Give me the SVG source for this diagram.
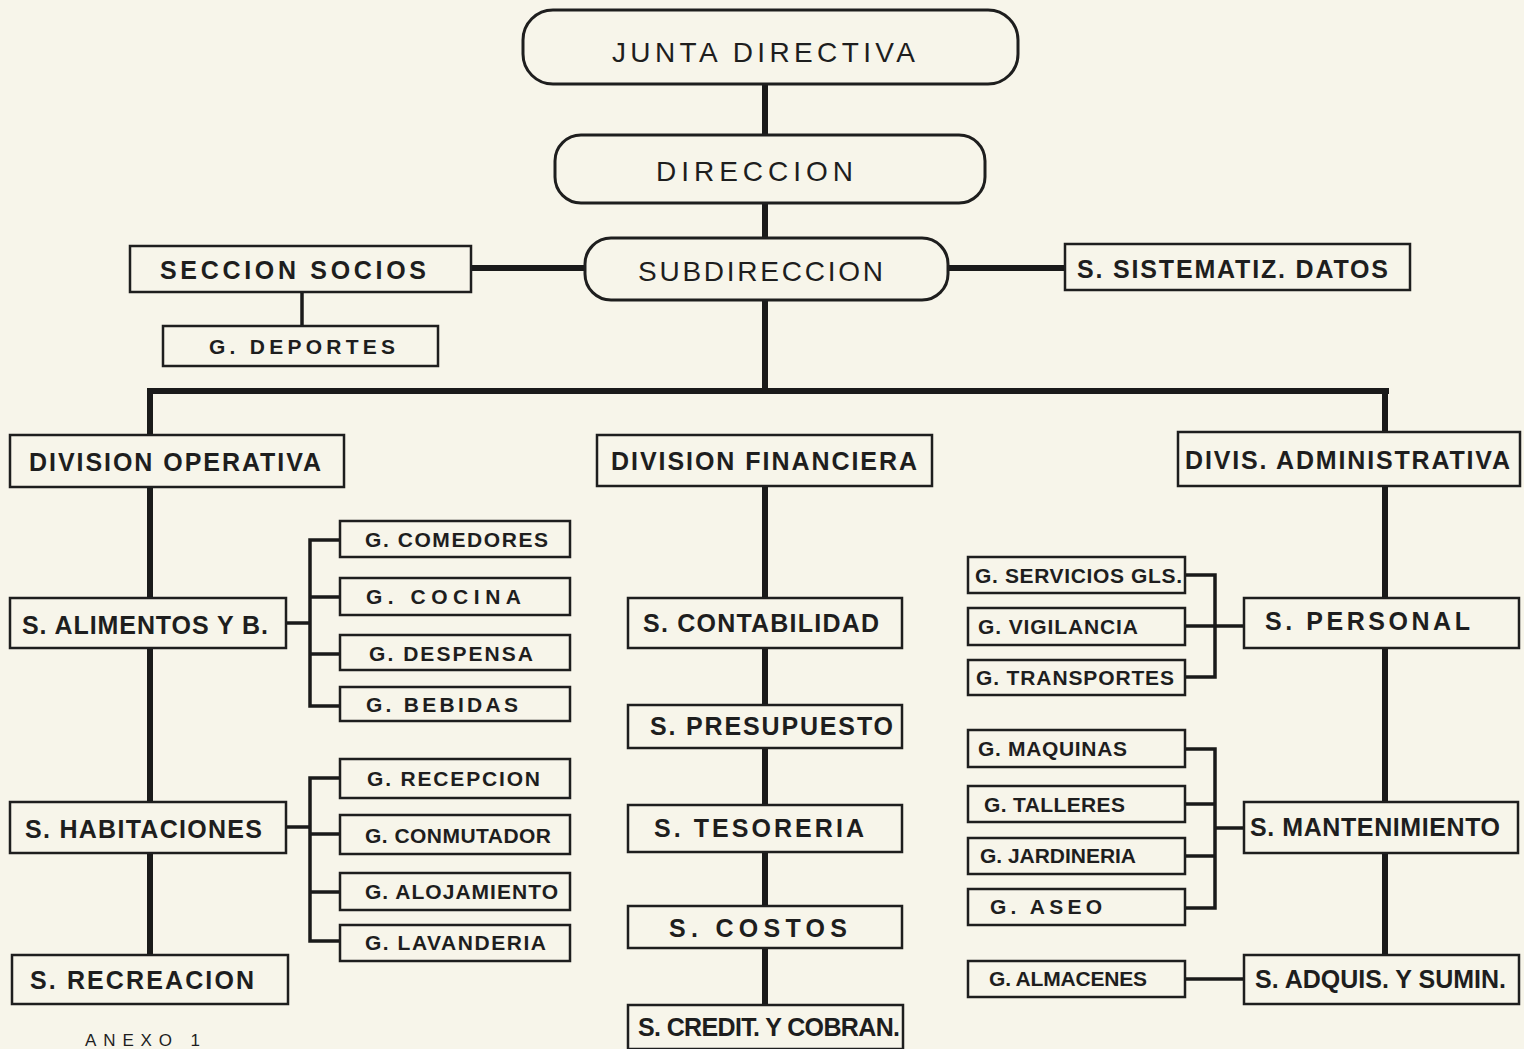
<svg xmlns="http://www.w3.org/2000/svg" width="1524" height="1049" viewBox="0 0 1524 1049">
<style>
.bg{fill:#f7f5ea}
.box{fill:#f7f5ea;stroke:#1e1e1e;stroke-width:2.5}
.rbox{fill:#f7f5ea;stroke:#1e1e1e;stroke-width:3}
.t{font-family:"Liberation Sans",Arial,sans-serif;fill:#1e1e1e;font-weight:bold;font-size:25px}
.tl{font-family:"Liberation Sans",Arial,sans-serif;fill:#1e1e1e;font-size:28px}
.ts{font-family:"Liberation Sans",Arial,sans-serif;fill:#1e1e1e;font-weight:bold;font-size:21px}
.thick{stroke:#1a1a1a;stroke-width:6;fill:none}
.med{stroke:#1a1a1a;stroke-width:3.5;fill:none}
</style>
<rect class="bg" x="0" y="0" width="1524" height="1049"/>
<g id="connectors">
<line class="thick" x1="765" y1="84" x2="765" y2="394"/>
<line class="thick" x1="471" y1="268" x2="585" y2="268"/>
<line class="thick" x1="948" y1="268" x2="1065" y2="268"/>
<line class="med" x1="302" y1="292" x2="302" y2="326"/>
<line class="thick" x1="147" y1="391" x2="1389" y2="391"/>
<line class="thick" x1="150" y1="391" x2="150" y2="435"/>
<line class="thick" x1="150" y1="487" x2="150" y2="955"/>
<line class="thick" x1="765" y1="486" x2="765" y2="1005"/>
<line class="thick" x1="1385" y1="391" x2="1385" y2="432"/>
<line class="thick" x1="1385" y1="486" x2="1385" y2="955"/>
<path class="med" d="M286,623 H310 M340,540 H310 V706 H340 M310,597 H340 M310,654 H340"/>
<path class="med" d="M286,827 H310 M340,778 H310 V941 H340 M310,834 H340 M310,892 H340"/>
<path class="med" d="M1185,575 H1215 V677 H1185 M1185,626 H1244"/>
<path class="med" d="M1185,749 H1215 V908 H1185 M1185,804 H1215 M1185,856 H1215 M1215,828 H1244"/>
<line class="med" x1="1185" y1="979" x2="1244" y2="979"/>
</g>
<g id="junta"><rect class="rbox" x="523" y="10" width="495" height="74" rx="30"/><text class="tl" x="612" y="62" textLength="303" lengthAdjust="spacing">JUNTA  DIRECTIVA</text></g>
<g id="direccion"><rect class="rbox" x="555" y="135" width="430" height="68" rx="26"/><text class="tl" x="656" y="181" textLength="197" lengthAdjust="spacing">DIRECCION</text></g>
<g id="subdireccion"><rect class="rbox" x="585" y="238" width="363" height="62" rx="26"/><text class="tl" x="638" y="281" textLength="245" lengthAdjust="spacing">SUBDIRECCION</text></g>
<g id="seccion-socios"><rect class="box" x="130" y="246" width="341" height="46"/><text class="t" x="160" y="279" textLength="266" lengthAdjust="spacing">SECCION SOCIOS</text></g>
<g id="g-deportes"><rect class="box" x="163" y="326" width="275" height="40"/><text class="ts" x="209" y="354" textLength="186" lengthAdjust="spacing">G. DEPORTES</text></g>
<g id="s-sistematiz"><rect class="box" x="1065" y="244" width="345" height="46"/><text class="t" x="1077" y="278" textLength="311" lengthAdjust="spacing">S. SISTEMATIZ. DATOS</text></g>
<g id="div-operativa"><rect class="box" x="10" y="435" width="334" height="52"/><text class="t" x="29" y="471" textLength="292" lengthAdjust="spacing">DIVISION OPERATIVA</text></g>
<g id="div-financiera"><rect class="box" x="597" y="435" width="335" height="51"/><text class="t" x="611" y="470" textLength="306" lengthAdjust="spacing">DIVISION FINANCIERA</text></g>
<g id="div-administrativa"><rect class="box" x="1178" y="432" width="342" height="54"/><text class="t" x="1185" y="469" textLength="325" lengthAdjust="spacing">DIVIS. ADMINISTRATIVA</text></g>
<g id="s-alimentos"><rect class="box" x="10" y="598" width="276" height="50"/><text class="t" x="22" y="634" textLength="246" lengthAdjust="spacing">S. ALIMENTOS Y B.</text></g>
<g id="s-habitaciones"><rect class="box" x="10" y="802" width="276" height="51"/><text class="t" x="25" y="838" textLength="237" lengthAdjust="spacing">S. HABITACIONES</text></g>
<g id="s-recreacion"><rect class="box" x="12" y="955" width="276" height="49"/><text class="t" x="30" y="989" textLength="224" lengthAdjust="spacing">S. RECREACION</text></g>
<g id="g-comedores"><rect class="box" x="340" y="521" width="230" height="36"/><text class="ts" x="365" y="547" textLength="183" lengthAdjust="spacing">G. COMEDORES</text></g>
<g id="g-cocina"><rect class="box" x="340" y="578" width="230" height="37"/><text class="ts" x="366" y="604" textLength="155" lengthAdjust="spacing">G.  COCINA</text></g>
<g id="g-despensa"><rect class="box" x="340" y="635" width="230" height="35"/><text class="ts" x="369" y="661" textLength="164" lengthAdjust="spacing">G. DESPENSA</text></g>
<g id="g-bebidas"><rect class="box" x="340" y="687" width="230" height="34"/><text class="ts" x="366" y="712" textLength="152" lengthAdjust="spacing">G.  BEBIDAS</text></g>
<g id="g-recepcion"><rect class="box" x="340" y="759" width="230" height="39"/><text class="ts" x="367" y="786" textLength="173" lengthAdjust="spacing">G. RECEPCION</text></g>
<g id="g-conmutador"><rect class="box" x="340" y="815" width="230" height="39"/><text class="ts" x="365" y="843" textLength="186" lengthAdjust="spacing">G. CONMUTADOR</text></g>
<g id="g-alojamiento"><rect class="box" x="340" y="873" width="230" height="37"/><text class="ts" x="365" y="899" textLength="193" lengthAdjust="spacing">G. ALOJAMIENTO</text></g>
<g id="g-lavanderia"><rect class="box" x="340" y="925" width="230" height="36"/><text class="ts" x="365" y="950" textLength="181" lengthAdjust="spacing">G. LAVANDERIA</text></g>
<g id="s-contabilidad"><rect class="box" x="628" y="598" width="274" height="50"/><text class="t" x="643" y="632" textLength="236" lengthAdjust="spacing">S. CONTABILIDAD</text></g>
<g id="s-presupuesto"><rect class="box" x="628" y="705" width="274" height="43"/><text class="t" x="650" y="735" textLength="243" lengthAdjust="spacing">S. PRESUPUESTO</text></g>
<g id="s-tesoreria"><rect class="box" x="628" y="805" width="274" height="47"/><text class="t" x="654" y="837" textLength="210" lengthAdjust="spacing">S. TESORERIA</text></g>
<g id="s-costos"><rect class="box" x="628" y="906" width="274" height="42"/><text class="t" x="669" y="937" textLength="178" lengthAdjust="spacing">S.  COSTOS</text></g>
<g id="s-credit"><rect class="box" x="628" y="1005" width="275" height="44"/><text class="t" x="638" y="1036" textLength="262" lengthAdjust="spacing">S. CREDIT. Y COBRAN.</text></g>
<g id="s-personal"><rect class="box" x="1244" y="598" width="275" height="50"/><text class="t" x="1265" y="630" textLength="205" lengthAdjust="spacing">S.  PERSONAL</text></g>
<g id="s-mantenimiento"><rect class="box" x="1244" y="802" width="274" height="51"/><text class="t" x="1250" y="836" textLength="250" lengthAdjust="spacing">S. MANTENIMIENTO</text></g>
<g id="s-adquis"><rect class="box" x="1244" y="955" width="275" height="49"/><text class="t" x="1255" y="988" textLength="251" lengthAdjust="spacing">S. ADQUIS. Y SUMIN.</text></g>
<g id="g-servicios"><rect class="box" x="968" y="557" width="217" height="36"/><text class="ts" x="975" y="583" textLength="207" lengthAdjust="spacing">G. SERVICIOS GLS.</text></g>
<g id="g-vigilancia"><rect class="box" x="968" y="608" width="217" height="37"/><text class="ts" x="978" y="634" textLength="160" lengthAdjust="spacing">G. VIGILANCIA</text></g>
<g id="g-transportes"><rect class="box" x="968" y="660" width="217" height="35"/><text class="ts" x="976" y="685" textLength="198" lengthAdjust="spacing">G. TRANSPORTES</text></g>
<g id="g-maquinas"><rect class="box" x="968" y="730" width="217" height="37"/><text class="ts" x="978" y="756" textLength="149" lengthAdjust="spacing">G.  MAQUINAS</text></g>
<g id="g-talleres"><rect class="box" x="968" y="786" width="217" height="36"/><text class="ts" x="984" y="812" textLength="141" lengthAdjust="spacing">G. TALLERES</text></g>
<g id="g-jardineria"><rect class="box" x="968" y="838" width="217" height="36"/><text class="ts" x="980" y="863" textLength="156" lengthAdjust="spacing">G. JARDINERIA</text></g>
<g id="g-aseo"><rect class="box" x="968" y="889" width="217" height="36"/><text class="ts" x="990" y="914" textLength="112" lengthAdjust="spacing">G.  ASEO</text></g>
<g id="g-almacenes"><rect class="box" x="968" y="961" width="217" height="36"/><text class="ts" x="989" y="986" textLength="158" lengthAdjust="spacing">G. ALMACENES</text></g>
<text x="85" y="1046" font-family="Liberation Sans, Arial, sans-serif" font-size="17" fill="#1e1e1e" textLength="115" lengthAdjust="spacing">ANEXO 1</text>
</svg>
